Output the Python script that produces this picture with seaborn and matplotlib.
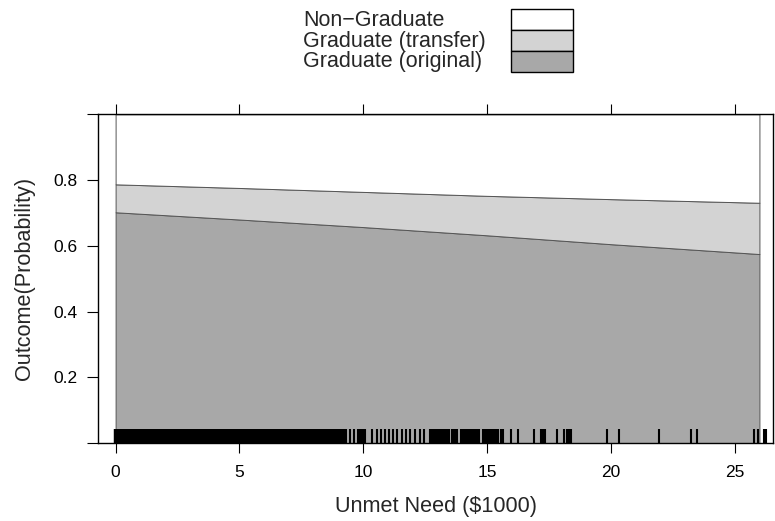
import matplotlib
matplotlib.use("Agg")
import matplotlib.pyplot as plt
import matplotlib.patches as mpatches
import seaborn as sns
import numpy as np

# ---- data -------------------------------------------------------------
unmet_need = [0, 5, 10, 15, 20, 26]
p_grad_original = [0.702, 0.680, 0.657, 0.632, 0.605, 0.575]
p_grad_transfer = [0.085, 0.096, 0.107, 0.120, 0.137, 0.156]
p_non_graduate = [0.213, 0.224, 0.236, 0.248, 0.258, 0.269]

categories = ["Non\u2212Graduate", "Graduate (transfer)", "Graduate (original)"]
category_colors = ["#FFFFFF", "#D3D3D3", "#A8A8A8"]

x_ticks = [0, 5, 10, 15, 20, 25]
y_ticks = [0, 0.2, 0.4, 0.6, 0.8, 1.0]
y_tick_labels = ["", "0.2", "0.4", "0.6", "0.8", ""]

# observed Unmet Need values (rug); the low range is densely populated
rug_x_dense = [
    0.0, 0.1, 0.2, 0.3, 0.4, 0.5, 0.6, 0.7, 0.8, 0.9,
    1.0, 1.1, 1.2, 1.3, 1.4, 1.5, 1.6, 1.7, 1.8, 1.9,
    2.0, 2.1, 2.2, 2.3, 2.4, 2.5, 2.6, 2.7, 2.8, 2.9,
    3.0, 3.1, 3.2, 3.3, 3.4, 3.5, 3.6, 3.7, 3.8, 3.9,
    4.0, 4.1, 4.2, 4.3, 4.4, 4.5, 4.6, 4.7, 4.8, 4.9,
    5.0, 5.1, 5.2, 5.3, 5.4, 5.5, 5.6, 5.7, 5.8, 5.9,
    6.0, 6.1, 6.2, 6.3, 6.4, 6.5, 6.6, 6.7, 6.8, 6.9,
    7.0, 7.1, 7.2, 7.3, 7.4, 7.5, 7.6, 7.7, 7.8, 7.9,
    8.0, 8.1, 8.2, 8.3, 8.4, 8.5, 8.6, 8.7, 8.8, 8.9,
    9.0, 9.1, 9.2,
]
rug_x_sparse = [
    9.3, 9.46, 9.62, 9.8, 9.87, 9.94, 10.01, 10.08,
    10.34, 10.54, 10.72, 10.88, 11.04, 11.21, 11.38, 11.55, 11.71, 11.89,
    12.09, 12.29, 12.46, 12.7, 12.77, 12.84, 12.91, 12.98, 13.05, 13.1,
    13.2, 13.27, 13.34, 13.41, 13.46, 13.6, 13.67, 13.74, 13.8,
    13.95, 14.02, 14.09, 14.16, 14.23, 14.3, 14.37, 14.44, 14.5, 14.6, 14.68,
    14.82, 14.89, 14.96, 15.03, 15.1, 15.17, 15.24, 15.31, 15.38, 15.44, 15.55, 15.65,
    15.97, 16.26, 16.9, 17.17, 17.28, 17.34, 17.81, 18.12, 18.22, 18.3, 18.38,
    19.83, 20.33, 21.94, 23.22, 23.47, 25.79, 25.95, 26.2, 26.28,
]

# ---- style --------------------------------------------------------------
sns.set_style("white")
plt.rcParams["font.family"] = ["Liberation Sans", "DejaVu Sans"]

fig = plt.figure(figsize=(7.75, 5.21), dpi=100)
ax = fig.add_axes([0.1268, 0.1495, 0.8710, 0.6311])

ax.stackplot(unmet_need, p_grad_original, p_grad_transfer, p_non_graduate,
             colors=[category_colors[2], category_colors[1], category_colors[0]],
             edgecolor="#555555", linewidth=0.7, zorder=2)

sns.rugplot(x=rug_x_dense, ax=ax, height=0.0425, color="black", linewidth=3.2,
            expand_margins=False, zorder=3)
sns.rugplot(x=rug_x_sparse, ax=ax, height=0.0425, color="black", linewidth=1.5,
            expand_margins=False, zorder=3)

ax.set_xlim(-0.70, 26.56)
ax.set_ylim(0, 1)

ax.set_xticks(x_ticks)
ax.set_xticklabels([str(t) for t in x_ticks])
ax.set_yticks(y_ticks)
ax.set_yticklabels(y_tick_labels)

ax.tick_params(axis="x", which="both", direction="out", top=True, bottom=True,
               length=7.5, width=0.8, labelsize=12.5, pad=8, colors="black")
ax.tick_params(axis="y", which="both", direction="out", left=True, right=False,
               length=8, width=0.8, labelsize=12.5, pad=7, colors="black")

for s in ax.spines.values():
    s.set_color("black")
    s.set_linewidth(1.0)
    s.set_visible(True)

ax.set_xlabel("Unmet Need ($1000)", fontsize=15.6)
ax.xaxis.label.set_va("center")
ax.xaxis.set_label_coords(0.5, -0.194)
ax.set_ylabel("Outcome(Probability)", fontsize=15.6)
ax.yaxis.label.set_va("center")
ax.yaxis.label.set_ha("center")
ax.yaxis.set_label_coords(-0.1086, 0.5)

# ---- legend (key above the panel) --------------------------------------
W, H = 775.0, 521.0
text_y = [20, 41.5, 61.7]
row_edges = [9, 30.1, 51.2, 72.3]
for i, (lab, col) in enumerate(zip(categories, category_colors)):
    fig.text(303 / W, 1 - text_y[i] / H, lab, fontsize=15.5, ha="left", va="center")
    y0 = row_edges[i + 1]
    rect = mpatches.Rectangle((511 / W, 1 - y0 / H), 62 / W, (row_edges[i + 1] - row_edges[i]) / H,
                              transform=fig.transFigure, facecolor=col,
                              edgecolor="black", linewidth=1.0)
    fig.patches.append(rect)

fig.savefig("out.png", dpi=100)
